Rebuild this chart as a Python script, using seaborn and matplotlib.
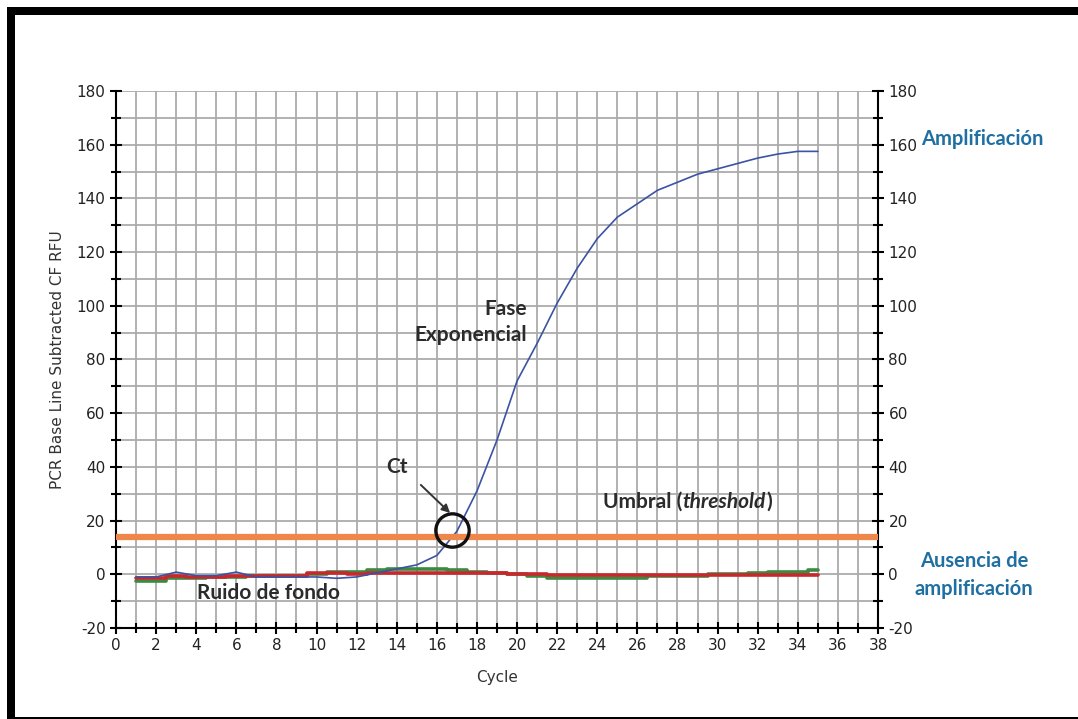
import matplotlib
matplotlib.use("Agg")
import matplotlib.pyplot as plt
import pandas as pd
import seaborn as sns
from matplotlib.patches import Rectangle
from matplotlib.ticker import MultipleLocator

# datos
cycles = list(range(1, 36))
amplificacion = [-1, -1, 0.8, -0.5, -0.5, 0.8, -1, -1, -1, -1, -1.5, -1, 0.5, 2, 3.5,
                 7, 16, 31, 50, 72, 86, 101, 114, 125, 133, 138, 143, 146, 149, 151,
                 153, 155, 156.5, 157.5, 157.5]
ruido_rojo = [-1.5, -1.5, -0.5, -1, -1, -0.5, -0.5, -0.5, -0.5, 0.5, 0.5, 0, 0.5, 0.5, 0.5,
              0.5, 0.5, 0.5, 0.3, 0, 0, -0.3, -0.3, -0.3, -0.3, -0.3, -0.3, -0.3, -0.3, -0.3,
              -0.3, -0.3, -0.3, -0.3, -0.3]
ruido_verde = [-2.5, -2.5, -1.5, -1.5, -1, -1, -0.5, -0.5, -0.5, 0, 1, 1, 1.5, 2, 2,
               2, 1.5, 1, 0.5, 0, -0.5, -1.5, -1.5, -1.5, -1.5, -1.5, -0.5, -0.5, -0.5, 0,
               0, 0.5, 1, 1, 1.5]
umbral = 14
ct_cycle, ct_value = 16.76, 16.5

noise = pd.DataFrame({
    "Cycle": cycles * 2,
    "RFU": ruido_verde + ruido_rojo,
    "serie": ["verde"] * len(cycles) + ["rojo"] * len(cycles),
})
amp = pd.DataFrame({"Cycle": cycles, "RFU": amplificacion})

sns.set_theme(style="white")
plt.rcParams["font.family"] = ["DejaVu Sans"]
plt.rcParams["axes.unicode_minus"] = False

fig = plt.figure(figsize=(10.78, 7.19), dpi=100)
ax = fig.add_axes([0.1076, 0.1266, 0.7069, 0.7469])

sns.lineplot(data=noise, x="Cycle", y="RFU", hue="serie",
             palette={"verde": "#3a8a3f", "rojo": "#c8282d"},
             linewidth=2.6, drawstyle="steps-mid", legend=False, ax=ax, zorder=3)
sns.lineplot(data=amp, x="Cycle", y="RFU", color="#3a53a4", linewidth=1.2,
             legend=False, ax=ax, zorder=4)
ax.axhline(umbral, color="#f0874a", linewidth=4.5, zorder=5)

ax.set_xlim(0, 38)
ax.set_ylim(-20, 180)
ax.xaxis.set_major_locator(MultipleLocator(2))
ax.xaxis.set_minor_locator(MultipleLocator(1))
ax.yaxis.set_major_locator(MultipleLocator(20))
ax.yaxis.set_minor_locator(MultipleLocator(10))
ax.grid(True, which="both", color="#ababab", linewidth=1.3)
ax.set_axisbelow(True)

for s in ["left", "bottom", "right"]:
    ax.spines[s].set_color("black")
    ax.spines[s].set_linewidth(1.5)
ax.spines["top"].set_visible(False)
ax.tick_params(which="both", direction="inout", color="black", width=1.5,
               labelsize=11, labelcolor="#222222", left=True, bottom=True)
ax.tick_params(which="major", length=8)
ax.tick_params(which="minor", length=7)

# eje derecho con las mismas marcas
ax2 = ax.twinx()
ax2.set_ylim(ax.get_ylim())
ax2.yaxis.set_major_locator(MultipleLocator(20))
ax2.yaxis.set_minor_locator(MultipleLocator(10))
ax2.tick_params(which="both", direction="inout", color="black", width=1.5,
                labelsize=11, labelcolor="#222222", right=True)
ax2.tick_params(which="major", length=8)
ax2.tick_params(which="minor", length=7)
for s in ax2.spines.values():
    s.set_visible(False)
ax2.grid(False)

ax.set_xlabel("Cycle", fontsize=11, color="#333333", labelpad=12)
ax.set_ylabel("PCR Base Line Subtracted CF RFU", fontsize=11, color="#333333", labelpad=8)

# anotaciones
bold = dict(family=["Lato", "DejaVu Sans"], fontweight="bold", fontsize=15, color="#2b2b2b")
ax.text(20.5, 94, "Fase\nExponencial", ha="right", va="center",
        multialignment="right", linespacing=1.4, zorder=6, **bold)
ax.text(14.0, 40, "Ct", ha="center", va="center", zorder=6, **bold)
ax.annotate("", xy=(16.76, 22.1), xytext=(15.1, 34),
            arrowprops=dict(arrowstyle="-|>", color="#333333", lw=1.4,
                            mutation_scale=12), zorder=6)
ax.plot([ct_cycle], [ct_value], marker="o", markersize=24, markerfacecolor="none",
        markeredgecolor="#111111", markeredgewidth=2.4, zorder=7)

tA = ax.text(24.3, 27, "Umbral (", ha="left", va="center", zorder=6, **bold)
tB = ax.annotate("threshold", xy=(1, 0.5), xycoords=tA, ha="left", va="center",
                 fontstyle="italic", zorder=6, **bold)
ax.annotate(")", xy=(1, 0.5), xycoords=tB, ha="left", va="center", zorder=6, **bold)

ax.text(7.6, -6.8, "Ruido de fondo", ha="center", va="center", zorder=6, **bold)

blue = dict(family=["Lato", "DejaVu Sans"], fontweight="bold", fontsize=14.5, color="#1f6fa3")
ax.text(43.2, 162, "Amplificación", ha="center", va="center", clip_on=False, **blue)
ax.text(42.8, -0.3, "Ausencia de\namplificación", ha="center", va="center",
        linespacing=1.45, clip_on=False, **blue)

# marco exterior
fig.patches.append(Rectangle((7 / 1078, 0), 8 / 1078, 1 - 7 / 719, transform=fig.transFigure,
                             facecolor="black", edgecolor="none", zorder=10))
fig.patches.append(Rectangle((7 / 1078, 1 - 15 / 719), 1, 8 / 719, transform=fig.transFigure,
                             facecolor="black", edgecolor="none", zorder=10))
fig.patches.append(Rectangle((7 / 1078, 0), 1, 2 / 719, transform=fig.transFigure,
                             facecolor="black", edgecolor="none", zorder=10))

fig.savefig("out.png", dpi=100)
